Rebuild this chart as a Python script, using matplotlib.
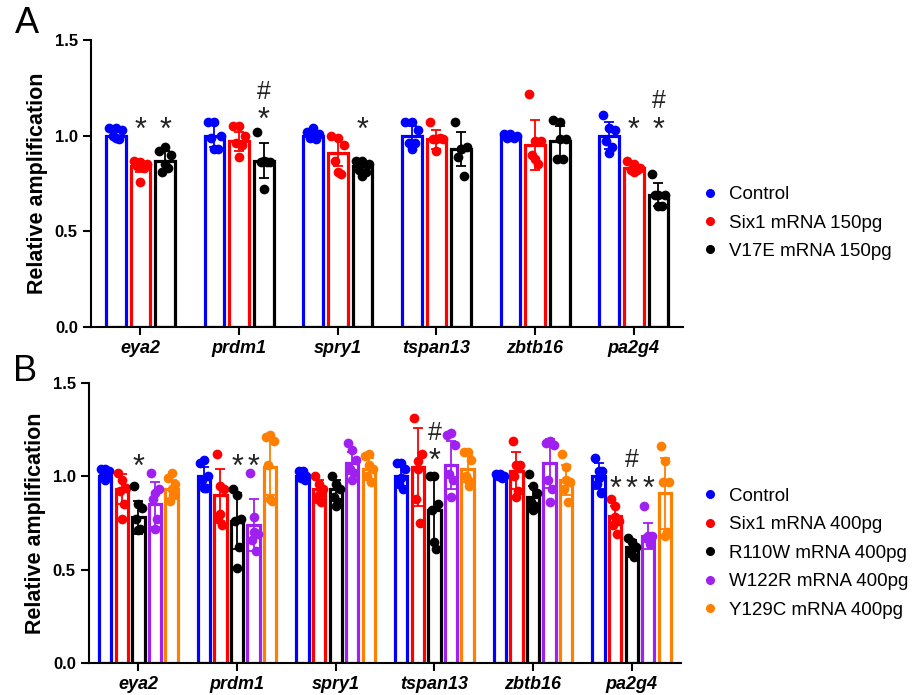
import matplotlib.pyplot as plt
from matplotlib.lines import Line2D
import numpy as np

plt.rcParams['font.family'] = ['Liberation Sans', 'DejaVu Sans']

# Data
genes = ['eya2', 'prdm1', 'spry1', 'tspan13', 'zbtb16', 'pa2g4']

# Panel A
labels_a = ['Control', 'Six1 mRNA 150pg', 'V17E mRNA 150pg']
colors_a = ['#0000ff', '#ff0000', '#000000']
means_a = [
    [1.00, 1.00, 1.00, 1.00, 1.00, 1.00],
    [0.84, 0.97, 0.91, 0.98, 0.95, 0.83],
    [0.87, 0.87, 0.84, 0.93, 0.97, 0.69],
]
sd_a = [
    [0.02, 0.06, 0.02, 0.05, 0.01, 0.07],
    [0.03, 0.05, 0.07, 0.05, 0.13, 0.02],
    [0.05, 0.09, 0.03, 0.09, 0.08, 0.06],
]
points_a = [
    [[1.04, 1.04, 1.03, 1.00, 0.98, 0.99],
     [1.07, 1.07, 1.00, 0.99, 0.93, 0.93],
     [1.02, 1.04, 1.01, 0.99, 0.98, 1.00],
     [1.07, 1.07, 1.03, 0.96, 0.96, 0.93],
     [1.01, 1.01, 1.00, 0.99, 0.99, 1.00],
     [1.11, 1.04, 1.03, 0.97, 0.94, 0.91]],
    [[0.87, 0.86, 0.85, 0.84, 0.83, 0.76],
     [1.05, 1.05, 1.00, 0.96, 0.95, 0.89],
     [1.00, 0.99, 0.95, 0.87, 0.80, 0.81],
     [1.07, 0.98, 0.98, 0.98, 0.99, 0.92],
     [1.22, 0.97, 0.97, 0.90, 0.85, 0.88],
     [0.87, 0.85, 0.83, 0.82, 0.82, 0.81]],
    [[0.92, 0.94, 0.90, 0.81, 0.83, 0.85],
     [1.02, 0.87, 0.86, 0.86, 0.86, 0.72],
     [0.87, 0.87, 0.85, 0.82, 0.81, 0.79],
     [1.07, 0.93, 0.94, 0.89, 0.79, 0.93],
     [1.08, 1.07, 0.98, 0.88, 0.88, 0.98],
     [0.80, 0.69, 0.69, 0.69, 0.63, 0.63]],
]
# significance marks: (gene, group, text, height)
sig_a = [
    (0, 1, '*', 1.07), (0, 2, '*', 1.07),
    (1, 2, '*', 1.12), (1, 2, '#', 1.23),
    (2, 2, '*', 1.07),
    (5, 1, '*', 1.07), (5, 2, '*', 1.07), (5, 2, '#', 1.18),
]

# Panel B
labels_b = ['Control', 'Six1 mRNA 400pg', 'R110W mRNA 400pg',
            'W122R mRNA 400pg', 'Y129C mRNA 400pg']
colors_b = ['#0000ff', '#ff0000', '#000000', '#a020f0', '#ff8000']
means_b = [
    [1.00, 1.00, 1.00, 1.00, 1.00, 1.00],
    [0.93, 0.90, 0.93, 1.05, 1.03, 0.79],
    [0.78, 0.76, 0.93, 0.82, 0.89, 0.62],
    [0.85, 0.74, 1.07, 1.06, 1.07, 0.68],
    [0.93, 1.05, 1.04, 1.04, 0.98, 0.91],
]
sd_b = [
    [0.02, 0.05, 0.02, 0.05, 0.01, 0.07],
    [0.08, 0.14, 0.05, 0.21, 0.10, 0.05],
    [0.09, 0.15, 0.05, 0.17, 0.06, 0.04],
    [0.12, 0.14, 0.06, 0.13, 0.13, 0.07],
    [0.05, 0.15, 0.06, 0.07, 0.08, 0.19],
]
points_b = [
    [[1.04, 1.04, 1.03, 1.00, 1.00, 0.98],
     [1.07, 1.09, 1.00, 0.98, 0.94, 0.94],
     [1.03, 1.03, 1.00, 0.99, 0.98, 1.01],
     [1.07, 1.07, 1.04, 0.96, 0.93, 0.99],
     [1.01, 1.01, 1.00, 1.00, 0.99, 1.00],
     [1.10, 1.03, 1.03, 0.96, 0.91, 0.99]],
    [[1.02, 0.98, 0.94, 0.92, 0.85, 0.77],
     [1.12, 0.95, 0.93, 0.77, 0.74, 0.80],
     [1.00, 0.96, 0.93, 0.88, 0.86, 0.90],
     [1.31, 1.08, 1.12, 0.88, 0.75, 1.04],
     [1.19, 1.06, 1.06, 1.00, 0.92, 0.89],
     [0.88, 0.84, 0.76, 0.74, 0.69, 0.78]],
    [[0.95, 0.85, 0.83, 0.77, 0.72, 0.71],
     [0.93, 0.90, 0.77, 0.76, 0.62, 0.51],
     [1.00, 0.96, 0.93, 0.89, 0.86, 0.84],
     [1.00, 1.00, 0.85, 0.82, 0.61, 0.65],
     [1.01, 0.95, 0.91, 0.86, 0.84, 0.82],
     [0.67, 0.65, 0.62, 0.59, 0.57, 0.61]],
    [[1.02, 0.91, 0.93, 0.88, 0.77, 0.72],
     [1.02, 0.78, 0.69, 0.66, 0.60, 0.70],
     [1.18, 1.14, 1.09, 1.04, 1.02, 0.98],
     [1.22, 1.23, 1.17, 1.01, 0.98, 0.89],
     [1.18, 1.19, 1.17, 0.98, 0.93, 0.86],
     [0.84, 0.68, 0.68, 0.67, 0.64, 0.67]],
    [[0.99, 1.02, 0.96, 0.87, 0.90, 0.93],
     [1.21, 1.22, 1.19, 1.06, 0.87, 0.88],
     [1.11, 1.12, 1.04, 1.00, 0.97, 1.06],
     [1.13, 1.13, 1.09, 1.00, 0.95, 0.98],
     [1.12, 1.05, 0.97, 0.93, 0.86, 0.98],
     [1.16, 1.08, 0.97, 0.97, 0.70, 0.68]],
]
sig_b = [
    (0, 2, '*', 1.09),
    (1, 2, '*', 1.09), (1, 3, '*', 1.09),
    (3, 2, '*', 1.12), (3, 2, '#', 1.23),
    (5, 1, '*', 0.97), (5, 2, '*', 0.97), (5, 3, '*', 0.97), (5, 2, '#', 1.09),
]


def draw_panel(ax, means, sds, points, colors, sig, width, step):
    x = np.arange(len(genes))
    n = len(means)
    jitter = np.array([-1, 0, 1, -0.5, 0.5, 0]) * width * 0.32
    for i in range(n):
        xs = x + (i - (n - 1) / 2) * step
        ax.bar(xs, means[i], width=width, facecolor='white',
               edgecolor=colors[i], linewidth=2.3, zorder=2)
        ax.errorbar(xs, means[i], yerr=sds[i], fmt='none', ecolor=colors[i],
                    elinewidth=1.3, capsize=3.5, capthick=1.3, zorder=3)
        for g in range(len(genes)):
            ax.plot(xs[g] + jitter, points[i][g], 'o', color=colors[i],
                    markersize=7, markeredgewidth=0, zorder=4)
    for g, i, txt, yv in sig:
        xs = g + (i - (n - 1) / 2) * step
        if txt == '*':
            ax.annotate(txt, (xs, yv), xytext=(0, -6), textcoords='offset points',
                        ha='center', va='center', fontsize=22, color='#222222')
        else:
            ax.annotate(txt, (xs, yv), xytext=(0, 0), textcoords='offset points',
                        ha='center', va='center', fontsize=18, color='#222222')
    ax.set_xlim(-0.5, 5.5)
    ax.set_ylim(0, 1.5)
    ax.set_yticks([0, 0.5, 1.0, 1.5])
    ax.set_yticklabels(['0.0', '0.5', '1.0', '1.5'], fontweight='bold',
                       fontsize=12)
    ax.set_xticks(x)
    ax.set_xticklabels(genes, fontweight='bold', style='italic', fontsize=13)
    ax.set_ylabel('Relative amplification', fontweight='bold', fontsize=15.5,
                  labelpad=5)
    for s in ['top', 'right']:
        ax.spines[s].set_visible(False)
    for s in ['left', 'bottom']:
        ax.spines[s].set_linewidth(1.5)
    ax.tick_params(width=1.5, length=6)


fig = plt.figure(figsize=(9.15, 6.95), dpi=100)
ax_a = fig.add_axes([0.0995, 0.5295, 0.647, 0.413])
ax_b = fig.add_axes([0.0973, 0.046, 0.647, 0.403])

draw_panel(ax_a, means_a, sd_a, points_a, colors_a, sig_a, 0.2, 0.25)
draw_panel(ax_b, means_b, sd_b, points_b, colors_b, sig_b, 0.125, 0.168)

for ax, labels, colors, yc in [(ax_a, labels_a, colors_a, 0.679),
                               (ax_b, labels_b, colors_b, 0.204)]:
    handles = [Line2D([], [], marker='o', linestyle='none', color=c,
                      markersize=5.5) for c in colors]
    ax.legend(handles, labels, loc='center left', bbox_to_anchor=(0.758, yc),
              bbox_transform=fig.transFigure, frameon=False, fontsize=13.5,
              handlelength=0.8, handletextpad=0.6, labelspacing=0.6,
              borderpad=0)

fig.text(0.016, 0.966, 'A', fontsize=26, va='center')
fig.text(0.014, 0.466, 'B', fontsize=26, va='center')

fig.savefig('out.png', dpi=100)
